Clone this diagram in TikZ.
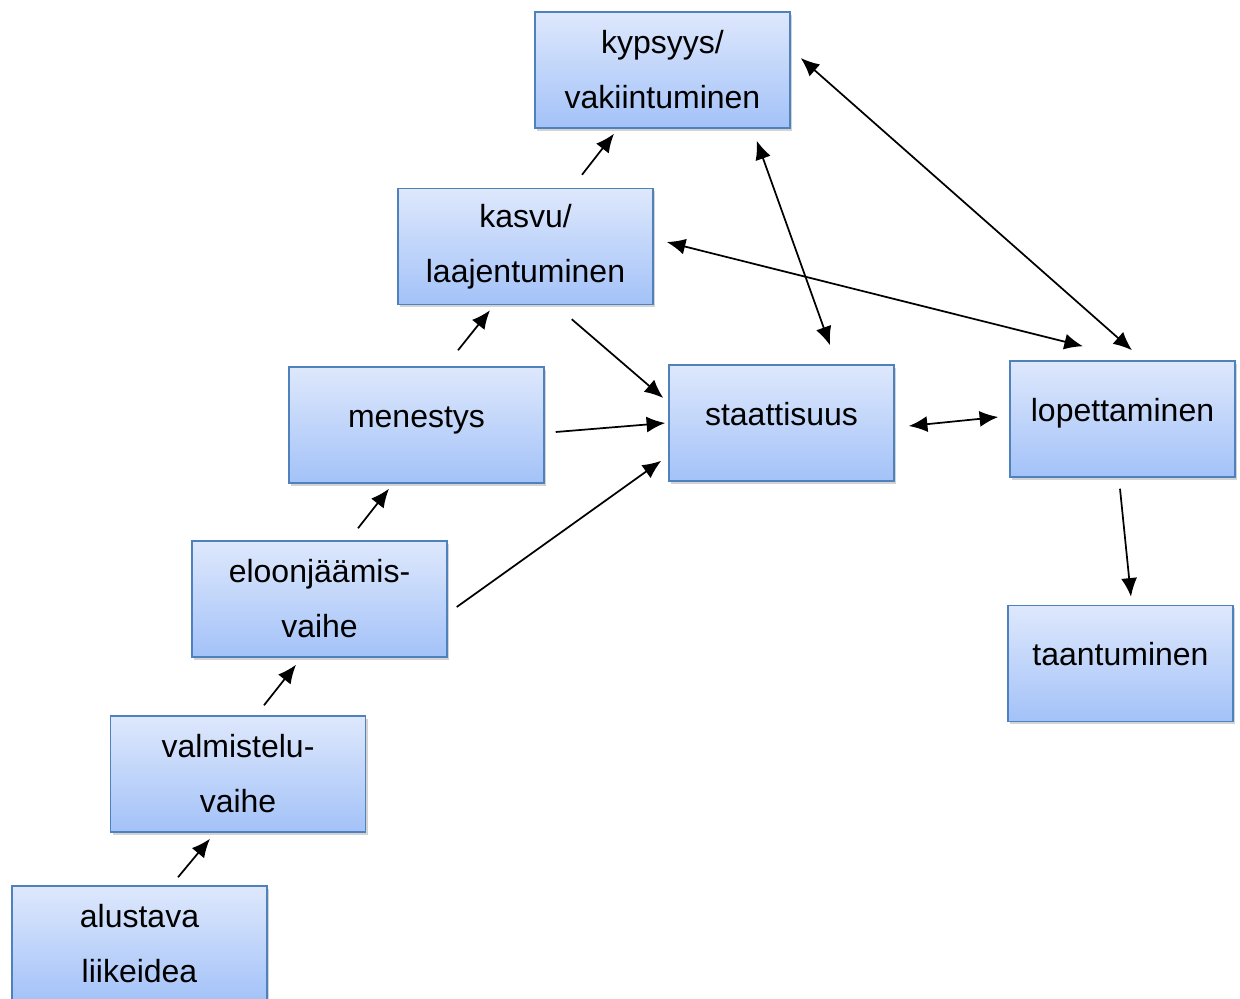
\documentclass[tikz,border=0pt]{standalone}
\usepackage{fontspec}
\setmainfont{Liberation Sans}
\usetikzlibrary{arrows.meta,shadows,calc}
\definecolor{boxtop}{RGB}{222,232,252}
\definecolor{boxbot}{RGB}{163,194,248}
\definecolor{boxline}{RGB}{79,129,189}
\tikzset{
  stage/.style={draw=boxline, line width=1.1pt, top color=boxtop, bottom color=boxbot,
    minimum width=191.25pt, minimum height=87pt, inner sep=0pt, align=center,
    font=\fontsize{24}{41.25}\selectfont,
    drop shadow={opacity=0.35, shadow xshift=1.5pt, shadow yshift=-2pt}},
  narrow/.style={minimum width=168.75pt},
  oneline/.style={text height=3pt, text depth=0pt},
  arr/.style={-{Latex[length=14pt,width=12pt]}, line width=1.3pt},
  arrs/.style={{Latex[length=14pt,width=12pt]}-{Latex[length=14pt,width=12pt]}, line width=1.3pt}
}
\begin{document}
\begin{tikzpicture}[x=0.75pt, y=-0.75pt]
  \useasboundingbox (0,0) rectangle (1240,999);
  % the stages
  \node[stage] (kyp) at (662.5,70) {kypsyys/\\vakiintuminen};
  \node[stage] (kas) at (525.5,246.5) {kasvu/\\laajentuminen};
  \node[stage, oneline] (men) at (416.5,425) {menestys};
  \node[stage] (elo) at (319.5,599) {eloonjäämis-\\vaihe};
  \node[stage] (val) at (238,774) {valmistelu-\\vaihe};
  \node[stage] (alu) at (139.5,944) {alustava\\liikeidea};
  \node[stage, narrow, oneline] (sta) at (781.5,423) {staattisuus};
  \node[stage, narrow, oneline] (lop) at (1122.5,419) {lopettaminen};
  \node[stage, narrow, oneline] (taa) at (1120.5,663.5) {taantuminen};
  % up the ladder
  \draw[arr] ($(alu.north)+(38.5,-8)$) -- ($(val.south)+(-28,6)$);
  \draw[arr] ($(val.north)+(26,-10)$) -- ($(elo.south)+(-23.5,7)$);
  \draw[arr] ($(elo.north)+(38.5,-12)$) -- ($(men.south)+(-27.5,5)$);
  \draw[arr] ($(men.north)+(41.5,-16)$) -- ($(kas.south)+(-35.5,5)$);
  \draw[arr] ($(kas.north)+(56.5,-13)$) -- ($(kyp.south)+(-48.5,5)$);
  % into staattisuus
  \draw[arr] ($(kas.south east)+(-82,14)$) -- ($(sta.west)+(-5,-25)$);
  \draw[arr] ($(men.east)+(11,7)$) -- ($(sta.west)+(-3,0)$);
  \draw[arr] ($(elo.east)+(9,8)$) -- ($(sta.south west)+(-7,-21)$);
  % both ways
  \draw[arrs] ($(kyp.south east)+(-34,12)$) -- ($(sta.north)+(48.5,-19)$);
  \draw[arrs] ($(kyp.east)+(10,-12)$) -- ($(lop.north)+(9.5,-10)$);
  \draw[arrs] ($(kas.east)+(13,-4.5)$) -- ($(lop.north)+(-39.5,-14)$);
  \draw[arrs] ($(sta.east)+(14,3)$) -- ($(lop.west)+(-11,-2)$);
  \draw[arr] ($(lop.south)+(-2.5,11)$) -- ($(taa.north)+(10.5,-8)$);
\end{tikzpicture}
\end{document}
